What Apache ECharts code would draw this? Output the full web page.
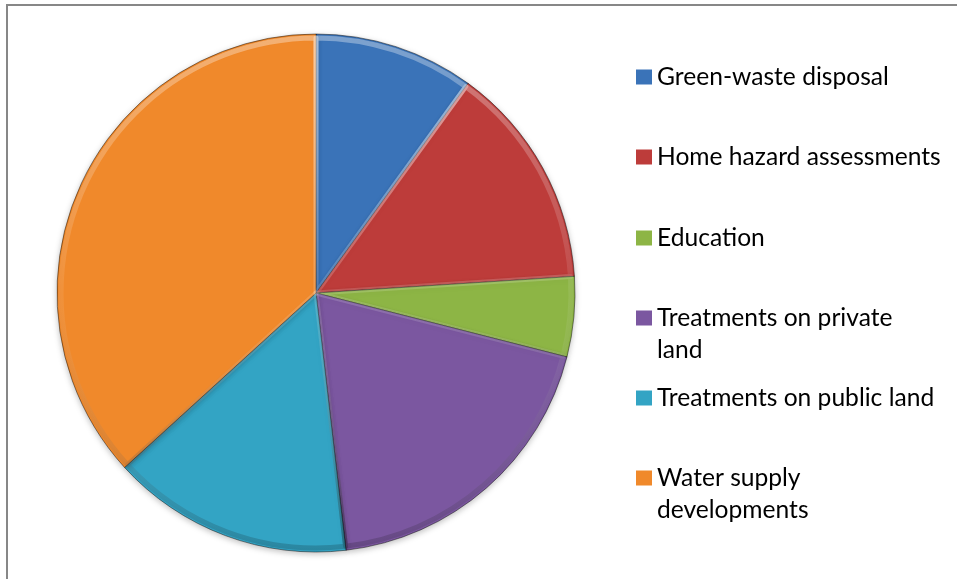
<!DOCTYPE html>
<html>
<head>
<meta charset="utf-8">
<script src="https://cdn.jsdelivr.net/npm/echarts@6/dist/echarts.min.js"></script>
<style>
html,body{margin:0;padding:0;background:#fff;overflow:hidden;}
#frame{position:absolute;left:6px;top:4px;width:990px;height:620px;border:2px solid #878787;box-sizing:border-box;}
#chart{position:absolute;left:0;top:0;width:957px;height:579px;}
</style>
</head>
<body>
<div id="frame"></div>
<div id="chart"></div>
<script>
var categories = ['Green-waste disposal','Home hazard assessments','Education','Treatments on private land','Treatments on public land','Water supply developments'];
var legendLabels = ['Green-waste disposal','Home hazard assessments','Education','Treatments on private\nland','Treatments on public land','Water supply\ndevelopments'];
var values = [10, 14, 5, 19.2, 15.1, 36.8];
var colors = ['#3a73b8','#bd3c3a','#8db545','#7b57a0','#33a4c4','#f0892b'];

var chart = echarts.init(document.getElementById('chart'), null, {renderer:'canvas'});
var pieData = categories.map(function(c,i){ return {name:c, value:values[i], itemStyle:{color:colors[i]}}; });
var legendTops = [61, 141, 222, 302, 382, 462];
var squareIcon = 'path://M0,0L16,0L16,15L0,15Z';
var tallIcon = 'path://M0,0L16,0L16,15L0,15Z M0,47L0.05,47L0,47Z';
var legends = categories.map(function(c,i){
  var twoLine = legendLabels[i].indexOf('\n') >= 0;
  return {
    data:[c], orient:'vertical', left:636, top:legendTops[i], padding:0,
    icon: twoLine ? tallIcon : squareIcon, itemWidth:16, itemHeight: twoLine ? 47 : 15, itemGap:0, selectedMode:false,
    itemStyle:{borderWidth:0},
    formatter:function(){ return legendLabels[i]; },
    textStyle:{fontFamily:'Lato', fontSize:24.6, color:'#000', lineHeight:32}
  };
});
chart.setOption({
  animation:false,
  legend: legends,
  series:[{
    type:'pie', center:[316,293], radius:[0,259], startAngle:90, clockwise:true,
    label:{show:false}, labelLine:{show:false}, silent:true,
    itemStyle:{borderColor:'rgba(0,0,0,0.45)', borderWidth:1, shadowBlur:6, shadowColor:'rgba(0,0,0,0.25)', shadowOffsetY:2},
    data: pieData
  },{
    type:'pie', center:[316,293], radius:[0,255], startAngle:90, clockwise:true,
    label:{show:false}, labelLine:{show:false}, silent:true,
    itemStyle:{color:'rgba(0,0,0,0)', borderWidth:5,
      borderColor:{type:'linear', x:0, y:34, x2:0, y2:552, global:true,
        colorStops:[{offset:0,color:'rgba(255,255,255,0.35)'},{offset:0.5,color:'rgba(255,255,255,0.08)'},{offset:1,color:'rgba(0,0,0,0.18)'}]}},
    data: categories.map(function(c,i){ return {name:c+' ', value:values[i]}; })
  }]
});
</script>
</body>
</html>
